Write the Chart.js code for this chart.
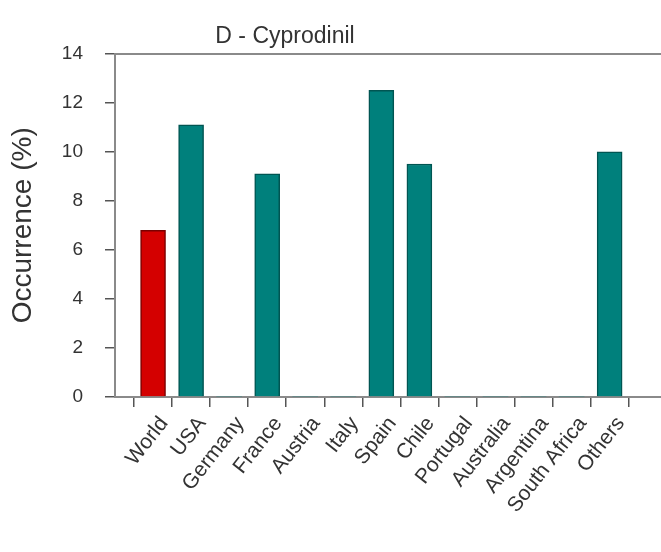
<!DOCTYPE html>
<html>
<head>
<meta charset="utf-8">
<script src="https://cdn.jsdelivr.net/npm/chart.js@4/dist/chart.umd.min.js"></script>
<style>
  html, body { margin: 0; padding: 0; background: #fff; overflow: hidden; width: 661px; height: 552px; }
  #wrap { position: relative; width: 661px; height: 582px; }
</style>
</head>
<body>
<div id="wrap"><canvas id="c" width="661" height="582"></canvas></div>
<script>
// Occurrence of cyprodinil residues by country of origin
const countries = ['World', 'USA', 'Germany', 'France', 'Austria', 'Italy', 'Spain',
                   'Chile', 'Portugal', 'Australia', 'Argentina', 'South Africa', 'Others'];
const occurrence = [6.8, 11.1, 0, 9.1, 0, 0, 12.5, 9.5, 0, 0, 0, 0, 10.0];
const yTicks = [0, 2, 4, 6, 8, 10, 12, 14];

const FONT = "'Liberation Sans', Arial, Helvetica, sans-serif";
const TEXT = '#333333';
const AXIS = '#8a8a8a';
const TICK = '#555555';
const CANVAS_H = 582;
const PLOT_BOTTOM = 397;

const barFill = countries.map(c => c === 'World' ? '#d40000' : '#00807c');
const barEdge = countries.map(c => c === 'World' ? '#7a0000' : '#005552');

const points = occurrence.map((v, i) => ({ x: i, y: v }));

const xRange = { min: -1, max: 13.35 };

// The panel title sits left of the canvas centre, over the left part of the figure.
const titleSpan = {
  id: 'titleSpan',
  afterLayout(chart) {
    const t = chart.titleBlock;
    if (t) { t.left = 0; t.right = 570; t.width = 570; }
  }
};

new Chart(document.getElementById('c'), {
  type: 'bar',
  data: {
    datasets: [{
      data: points,
      backgroundColor: barFill,
      borderColor: barEdge,
      borderWidth: ctx => (ctx.raw && ctx.raw.y > 0) ? 1.5 : 0,
      borderSkipped: 'bottom',
      barThickness: 25
    }]
  },
  plugins: [titleSpan],
  options: {
    responsive: false,
    animation: false,
    devicePixelRatio: 1,
    layout: { padding: 0 },
    plugins: {
      legend: { display: false },
      tooltip: { enabled: false },
      title: {
        display: true,
        text: 'D - Cyprodinil',
        color: TEXT,
        font: { family: FONT, size: 23, weight: 'normal' },
        padding: { top: 23, bottom: 0 }
      }
    },
    scales: {
      x: {
        type: 'linear',
        position: 'bottom',
        min: xRange.min,
        max: xRange.max,
        offset: false,
        afterFit: s => { s.height = CANVAS_H - PLOT_BOTTOM; s.paddingLeft = 0; s.paddingRight = 0; },
        grid: { display: true, drawOnChartArea: false, drawTicks: true, tickLength: 10, color: TICK, lineWidth: 1.5 },
        border: { display: true, color: AXIS, width: 2 },
        ticks: {
          stepSize: 1,
          includeBounds: false,
          autoSkip: false,
          minRotation: 52,
          maxRotation: 52,
          padding: 5,
          labelOffset: 11,
          color: TEXT,
          font: { family: FONT, size: 21 },
          callback: v => (Number.isInteger(v) && countries[v] !== undefined) ? countries[v] : ''
        },
        title: {
          display: true,
          text: 'Country of origin',
          color: TEXT,
          font: { family: FONT, size: 24 },
          padding: { top: 0, bottom: 4 }
        }
      },
      xTop: {
        type: 'linear',
        position: 'top',
        min: xRange.min,
        max: xRange.max,
        afterFit: s => { s.height = 3; s.paddingLeft = 0; s.paddingRight = 0; },
        grid: { display: false },
        border: { display: true, color: AXIS, width: 2 },
        ticks: { display: false }
      },
      y: {
        min: 0,
        max: 14,
        afterFit: s => { s.width = 115; },
        afterBuildTicks: s => { s.ticks = yTicks.map(v => ({ value: v })); },
        grid: { display: true, drawOnChartArea: false, drawTicks: true, tickLength: 10, color: TICK, lineWidth: 1.5 },
        border: { display: true, color: AXIS, width: 2 },
        ticks: {
          color: TEXT,
          padding: 22,
          font: { family: FONT, size: 19 }
        },
        title: {
          display: true,
          text: 'Occurrence (%)',
          color: TEXT,
          font: { family: FONT, size: 28 },
          padding: { top: 6, bottom: 0 }
        }
      }
    }
  }
});
</script>
</body>
</html>
